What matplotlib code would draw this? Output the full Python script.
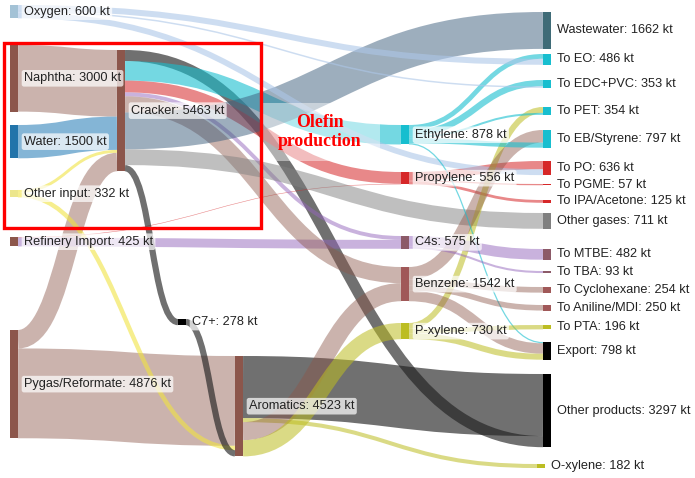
"""Sankey of olefin / aromatics flows, drawn by hand with bezier bands."""
import matplotlib
matplotlib.use('Agg')
import matplotlib.pyplot as plt
from matplotlib.path import Path
from matplotlib.patches import PathPatch, Rectangle

# ---- data ----
nodes = ['Oxygen', 'Naphtha', 'Water', 'Other input', 'Refinery Import',
         'Pygas/Reformate', 'Cracker', 'C7+', 'Aromatics',
         'Ethylene', 'Propylene', 'C4s', 'Benzene', 'P-xylene',
         'Wastewater', 'To EO', 'To EDC+PVC', 'To PET', 'To EB/Styrene',
         'To PO', 'To PGME', 'To IPA/Acetone', 'Other gases', 'To MTBE',
         'To TBA', 'To Cyclohexane', 'To Aniline/MDI', 'To PTA', 'Export',
         'Other products', 'O-xylene']

# (source, target, kt, link colour key)
links = [
    ('Naphtha', 'Cracker', 3000, 'brown'),
    ('Water', 'Cracker', 1500, 'water'),
    ('Other input', 'Cracker', 132, 'yellow'),
    ('Pygas/Reformate', 'Cracker', 831, 'brown'),
    ('Pygas/Reformate', 'Aromatics', 4045, 'brown'),
    ('Other input', 'Aromatics', 200, 'yellow'),
    ('C7+', 'Aromatics', 278, 'dark'),
    ('Aromatics', 'Other products', 2797, 'dark'),
    ('Aromatics', 'O-xylene', 182, 'olive'),
    ('Cracker', 'Other products', 500, 'dark'),
    ('Cracker', 'Ethylene', 878, 'cyan'),
    ('Cracker', 'Propylene', 531, 'red'),
    ('Refinery Import', 'Propylene', 25, 'red'),
    ('Cracker', 'C4s', 175, 'purple'),
    ('Refinery Import', 'C4s', 400, 'purple'),
    ('Cracker', 'Benzene', 728, 'brown'),
    ('Aromatics', 'Benzene', 814, 'brown'),
    ('Aromatics', 'P-xylene', 730, 'olive'),
    ('Cracker', 'Wastewater', 1662, 'waste'),
    ('Cracker', 'Other gases', 711, 'gray'),
    ('Cracker', 'C7+', 278, 'dark'),
    ('Ethylene', 'To EO', 216, 'cyan'),
    ('Oxygen', 'To EO', 270, 'oxygen'),
    ('Ethylene', 'To EDC+PVC', 285, 'cyan'),
    ('Oxygen', 'To EDC+PVC', 68, 'oxygen'),
    ('Propylene', 'To PO', 374, 'red'),
    ('Oxygen', 'To PO', 262, 'oxygen'),
    ('Propylene', 'To PGME', 57, 'red'),
    ('Propylene', 'To IPA/Acetone', 125, 'red'),
    ('P-xylene', 'To PET', 264, 'olive'),
    ('Ethylene', 'To PET', 90, 'cyan'),
    ('Benzene', 'To EB/Styrene', 567, 'brown'),
    ('Ethylene', 'To EB/Styrene', 230, 'cyan'),
    ('Ethylene', 'Export', 57, 'cyan'),
    ('Benzene', 'To Cyclohexane', 254, 'brown'),
    ('Benzene', 'To Aniline/MDI', 250, 'brown'),
    ('Benzene', 'Export', 471, 'brown'),
    ('P-xylene', 'To PTA', 196, 'olive'),
    ('P-xylene', 'Export', 270, 'olive'),
    ('C4s', 'To MTBE', 482, 'purple'),
    ('C4s', 'To TBA', 93, 'purple'),
]

# ---- layout (pixel space, like plotly node.x / node.y) ----
node_x = {'Oxygen': 10, 'Naphtha': 10, 'Water': 10, 'Other input': 10,
          'Refinery Import': 10, 'Pygas/Reformate': 10, 'Cracker': 117,
          'C7+': 178, 'Aromatics': 235, 'O-xylene': 537}
node_top = {'Oxygen': 5, 'Naphtha': 45, 'Water': 125, 'Other input': 190,
            'Refinery Import': 237, 'Pygas/Reformate': 330, 'Cracker': 50,
            'C7+': 319, 'Aromatics': 356, 'Ethylene': 125, 'Propylene': 172,
            'C4s': 236, 'Benzene': 267, 'P-xylene': 323, 'Wastewater': 12,
            'To EO': 54, 'To EDC+PVC': 80, 'To PET': 107, 'To EB/Styrene': 130,
            'To PO': 161, 'To PGME': 184, 'To IPA/Acetone': 200,
            'Other gases': 213, 'To MTBE': 249, 'To TBA': 271,
            'To Cyclohexane': 287, 'To Aniline/MDI': 305, 'To PTA': 325,
            'Export': 342, 'Other products': 374, 'O-xylene': 464}
for n in ['Ethylene', 'Propylene', 'C4s', 'Benzene', 'P-xylene']:
    node_x[n] = 401
for n in nodes:
    node_x.setdefault(n, 543)

BROWN = '#8c564b'
CYAN = '#17becf'
RED = '#d62728'
MAUVE = '#8c5a68'
BENZ = '#a05858'
OLIVE = '#bcbd22'
node_color = {'Oxygen': '#a3c2d6', 'Naphtha': BROWN, 'Water': '#2274aa',
              'Other input': '#ece68c', 'Refinery Import': BROWN,
              'Pygas/Reformate': BROWN, 'Cracker': BROWN, 'C7+': 'black',
              'Aromatics': BROWN, 'Ethylene': CYAN, 'Propylene': RED,
              'C4s': MAUVE, 'Benzene': BENZ, 'P-xylene': OLIVE,
              'Wastewater': '#3f6b77', 'To EO': CYAN, 'To EDC+PVC': CYAN,
              'To PET': CYAN, 'To EB/Styrene': CYAN, 'To PO': RED,
              'To PGME': RED, 'To IPA/Acetone': RED, 'Other gases': '#7f7f7f',
              'To MTBE': MAUVE, 'To TBA': MAUVE, 'To Cyclohexane': BENZ,
              'To Aniline/MDI': BENZ, 'To PTA': OLIVE, 'Export': 'black',
              'Other products': 'black', 'O-xylene': OLIVE}

link_color = {'brown': (0.55, 0.34, 0.29, 0.45), 'water': (0.12, 0.47, 0.71, 0.55),
              'yellow': (0.94, 0.89, 0.26, 0.6), 'dark': (0.12, 0.12, 0.12, 0.64),
              'olive': (0.74, 0.74, 0.13, 0.55), 'cyan': (0.09, 0.75, 0.81, 0.6),
              'red': (0.84, 0.15, 0.16, 0.55), 'purple': (0.58, 0.40, 0.74, 0.5),
              'waste': (0.24, 0.37, 0.49, 0.5), 'gray': (0.5, 0.5, 0.5, 0.5),
              'oxygen': (0.68, 0.78, 0.91, 0.6)}

K = 0.0222   # px per kt
NW = 8       # node width
PT = 72 / 100  # points per pixel at dpi 100

# node sizes from flows
flow_in = {n: 0 for n in nodes}
flow_out = {n: 0 for n in nodes}
for s, t, v, _ in links:
    flow_out[s] += v
    flow_in[t] += v
node_val = {n: max(flow_in[n], flow_out[n]) for n in nodes}

fig = plt.figure(figsize=(6.95, 4.78), dpi=100)
ax = fig.add_axes([0, 0, 1, 1])
ax.set_xlim(0, 695)
ax.set_ylim(478, 0)
ax.axis('off')

# links: stroked bezier centre lines, width = flow
off_out = {n: 0.0 for n in nodes}
off_in = {n: 0.0 for n in nodes}
for s, t, v, c in links:
    w = v * K
    x0 = node_x[s] + NW
    x1 = node_x[t]
    y0 = node_top[s] + off_out[s] + w / 2
    y1 = node_top[t] + off_in[t] + w / 2
    off_out[s] += w
    off_in[t] += w
    xm = (x0 + x1) / 2
    path = Path([(x0, y0), (xm, y0), (xm, y1), (x1, y1)],
                [Path.MOVETO, Path.CURVE4, Path.CURVE4, Path.CURVE4])
    ax.add_patch(PathPatch(path, fill=False, ec=link_color[c], lw=w * PT,
                           capstyle='butt', zorder=1))

# nodes + labels
for n in nodes:
    h = node_val[n] * K
    ax.add_patch(Rectangle((node_x[n], node_top[n]), NW, h,
                           fc=node_color[n], ec='none', zorder=2))
    ax.text(node_x[n] + NW + 6, node_top[n] + h / 2, f'{n}: {node_val[n]} kt',
            fontsize=9.2, family='Liberation Sans', color='#222222',
            va='center', ha='left', zorder=4,
            bbox=dict(boxstyle='round,pad=0.18', fc='white', ec='none', alpha=0.7))

# olefin production highlight
ax.add_patch(Rectangle((4, 43), 257, 185, fill=False, ec='#ff0000', lw=2.4, zorder=5))
ax.add_patch(Rectangle((262, 103), 118, 58, fc='white', ec='none', alpha=0.45, zorder=3))
ax.text(320, 132, 'Olefin\nproduction', fontsize=12.8, family='Liberation Serif',
        fontweight='bold', color='#ff0000', ha='center', va='center',
        linespacing=1.15, zorder=5)

fig.savefig('out.png', dpi=100)
print('Saved to out.png')
